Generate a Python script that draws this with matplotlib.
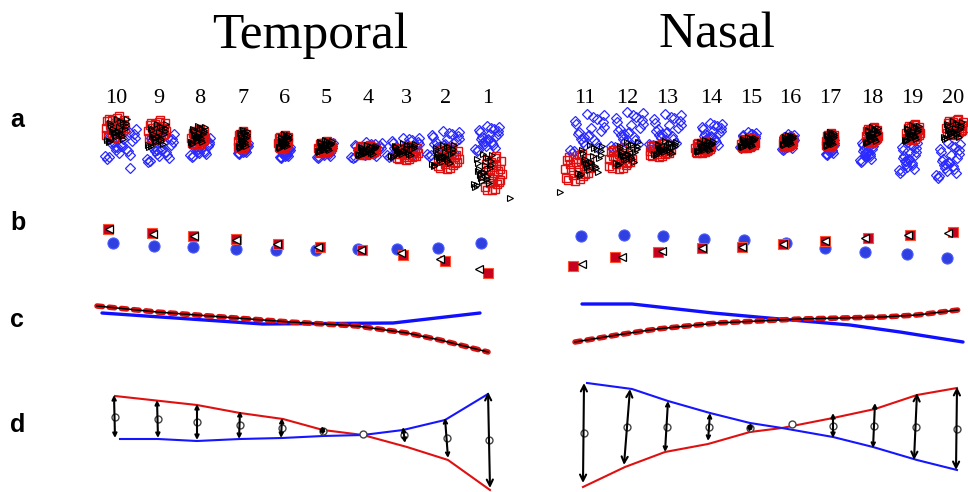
import matplotlib.pyplot as plt
import numpy as np

# column labels and their horizontal positions
temporal_labels = ['10', '9', '8', '7', '6', '5', '4', '3', '2', '1']
nasal_labels = ['11', '12', '13', '14', '15', '16', '17', '18', '19', '20']
temporal_x = [116, 159, 200, 243, 285, 326, 368, 406, 446, 488]
nasal_x = [585, 627, 667, 711, 751, 790, 830, 872, 912, 953]

# --- row a: cluster centres and spreads (red squares, black triangles, blue diamonds)
a_red_x = [115, 157, 198, 242, 283, 325, 367, 407, 448, 493, 577, 620, 660, 703, 748, 788, 830, 872, 913, 955]
a_red_y = [127, 130, 137, 140, 142, 147, 150, 153, 158, 173, 167, 158, 150, 147, 143, 142, 140, 135, 132, 127]
a_red_sx = [10, 9, 7, 4, 5, 7, 9, 11, 11, 9, 13, 12, 11, 8, 7, 5, 4, 6, 7, 9]
a_red_sy = [11, 10, 8, 9, 7, 6, 5, 7, 11, 18, 14, 11, 7, 6, 5, 5, 7, 8, 8, 8]
a_blk_x = [117, 157, 198, 243, 284, 325, 367, 403, 443, 483, 590, 627, 665, 705, 748, 788, 830, 872, 912, 953]
a_blk_y = [130, 135, 135, 139, 141, 146, 150, 150, 155, 170, 160, 153, 148, 146, 142, 140, 139, 135, 133, 130]
a_blk_sx = [10, 9, 7, 4, 5, 7, 9, 12, 11, 9, 12, 11, 11, 8, 7, 5, 4, 6, 7, 9]
a_blk_sy = [12, 12, 9, 9, 7, 6, 5, 7, 11, 17, 16, 12, 7, 6, 5, 5, 7, 8, 8, 9]
a_blu_x = [120, 160, 200, 243, 285, 325, 366, 403, 443, 487, 587, 627, 665, 710, 748, 788, 830, 867, 908, 948]
a_blu_y = [143, 147, 147, 148, 152, 150, 150, 147, 143, 138, 133, 130, 130, 135, 140, 142, 147, 150, 157, 160]
a_blu_sx = [16, 14, 10, 5, 5, 8, 16, 17, 17, 12, 18, 17, 17, 12, 8, 6, 4, 7, 9, 12]
a_blu_sy = [16, 15, 10, 6, 6, 8, 8, 10, 13, 13, 20, 19, 17, 13, 8, 8, 8, 12, 16, 18]
# fixed scatter pattern inside each cluster
jit_u = [-0.95, -0.62, -0.31, -0.05, 0.22, 0.51, 0.83, -0.78, -0.44, -0.12, 0.17, 0.46,
         0.74, 0.98, -0.88, -0.27, 0.05, 0.35, 0.62, -0.55, 0.28, -0.70, 0.90, 0.10]
jit_v = [0.12, -0.71, 0.55, -0.33, 0.88, -0.09, 0.40, -0.52, 0.21, 0.97, -0.84, 0.63,
         -0.25, 0.07, 0.75, -0.60, 0.34, -0.96, 0.48, -0.18, -0.42, 0.92, -0.66, 0.02]
outlier_tri = [(510, 198), (560, 192)]
outlier_dia = [(130, 168)]

# --- row b: mean positions
b_blue_y = [243, 246, 247, 249, 250, 250, 249, 249, 248, 243,
            236, 235, 236, 239, 240, 243, 248, 252, 254, 258]
b_red_x = [108, 152, 193, 236, 278, 320, 362, 403, 445, 488,
           573, 615, 658, 702, 742, 783, 825, 868, 910, 953]
b_red_y = [229, 233, 236, 239, 244, 247, 250, 255, 261, 273,
           266, 257, 252, 248, 247, 244, 241, 238, 235, 232]
b_tri_x = [109, 153, 194, 236, 277, 318, 361, 401, 440, 479,
           582, 622, 662, 702, 742, 783, 825, 865, 908, 948]
b_tri_y = [229, 234, 236, 240, 244, 247, 250, 253, 259, 269,
           264, 257, 251, 248, 247, 244, 241, 238, 235, 233]
b_blue_x = [113, 154, 193, 236, 276, 316, 358, 397, 438, 481,
            581, 624, 663, 704, 744, 786, 825, 865, 907, 947]

# --- row c: fitted curves
c_t_fit_x = [97, 157, 223, 290, 357, 407, 440, 488]
c_t_fit_y = [306, 312, 317, 322, 326, 333, 340, 352]
c_t_blue_x = [102, 263, 393, 480]
c_t_blue_y = [313, 324, 323, 313]
c_n_fit_x = [575, 617, 657, 717, 800, 883, 917, 958]
c_n_fit_y = [342, 335, 329, 323, 319, 317, 315, 310]
c_n_blue_x = [582, 632, 713, 757, 803, 850, 900, 963]
c_n_blue_y = [304, 304, 313, 317, 321, 325, 332, 342]

# --- row d: red / blue profiles and arrows
d_red_x = [115, 197, 240, 283, 323, 363, 407, 448, 490,
           583, 625, 665, 708, 750, 782, 833, 875, 917, 957]
d_red_y = [396, 405, 413, 419, 430, 435, 447, 460, 490,
           487, 467, 452, 444, 432, 428, 418, 409, 395, 388]
d_blue_x = [120, 158, 197, 240, 282, 323, 363, 403, 445, 488,
            587, 632, 668, 710, 750, 782, 833, 873, 917, 957]
d_blue_y = [439, 439, 441, 439, 438, 436, 435, 430, 420, 394,
            383, 389, 401, 413, 423, 428, 437, 447, 460, 470]
arr_x0 = [114, 157, 197, 240, 282, 322, 363, 403, 445, 488,
          584, 630, 668, 710, 751, 792, 833, 875, 917, 957]
arr_y0 = [395, 400, 404, 411, 418, 426, 434, 427, 418, 392,
          383, 389, 401, 413, 423, 424, 413, 403, 393, 387]
arr_x1 = [115, 158, 197, 239, 281, 323, 363, 405, 448, 490,
          583, 624, 665, 708, 749, 792, 833, 873, 914, 956]
arr_y1 = [438, 438, 440, 439, 438, 435, 434, 443, 458, 488,
          483, 465, 452, 441, 432, 424, 438, 448, 460, 470]

BLUE = '#2b2bff'
RED = '#e01010'

fig = plt.figure(figsize=(9.68, 4.92), dpi=100)
ax = fig.add_axes([0, 0, 1, 1])
ax.set_xlim(0, 968)
ax.set_ylim(492, 0)
ax.axis('off')

# titles and labels
ax.text(310, 48, 'Temporal', fontsize=37, family='Liberation Serif', ha='center', va='baseline')
ax.text(717, 48, 'Nasal', fontsize=37, family='Liberation Serif', ha='center', va='baseline')
for lab, x in zip(temporal_labels + nasal_labels, temporal_x + nasal_x):
    ax.text(x, 103, lab, fontsize=16, family='Liberation Serif', ha='center', va='baseline')
for lab, y in zip('abcd', [127, 230, 327, 432]):
    ax.text(10, y, lab, fontsize=18, family='Liberation Sans', weight='bold', va='baseline')

# row a
u = np.array(jit_u)
v = np.array(jit_v)
for i in range(20):
    ax.plot(a_blu_x[i] + a_blu_sx[i] * v, a_blu_y[i] + a_blu_sy[i] * u[::-1], 'D', ls='none',
            ms=5, mfc='none', mec=BLUE, mew=0.9)
    ax.plot(a_red_x[i] + a_red_sx[i] * u, a_red_y[i] + a_red_sy[i] * v, 's', ls='none',
            ms=6, mfc='none', mec=RED, mew=1.0)
    ax.plot(a_blk_x[i] + a_blk_sx[i] * v[::-1], a_blk_y[i] + a_blk_sy[i] * u, '>', ls='none',
            ms=5, mfc='none', mec='black', mew=0.8)
ax.plot([p[0] for p in outlier_tri], [p[1] for p in outlier_tri], '>', ls='none',
        ms=5, mfc='none', mec='black', mew=0.8)
ax.plot([p[0] for p in outlier_dia], [p[1] for p in outlier_dia], 'D', ls='none',
        ms=5, mfc='none', mec=BLUE, mew=0.9)

# row b
ax.plot(b_blue_x, b_blue_y, 'o', ls='none', ms=8, mfc='#2f3fe0', mec='#4a5cff', mew=0.8)
ax.plot(b_red_x, b_red_y, 's', ls='none', ms=7.5, mfc='#c8001e', mec='#ff5030', mew=0.8)
ax.plot(b_tri_x, b_tri_y, '<', ls='none', ms=6, mfc='white', mec='black', mew=0.9)

# row c
for fx, fy, bx, by in [(c_t_fit_x, c_t_fit_y, c_t_blue_x, c_t_blue_y),
                       (c_n_fit_x, c_n_fit_y, c_n_blue_x, c_n_blue_y)]:
    ax.plot(bx, by, color='#1010ff', lw=2.4, solid_capstyle='round')
    ax.plot(fx, fy, color=RED, lw=4, ls=(0, (1.0, 1.2)), dash_capstyle='round')
    ax.plot(fx, fy, color='black', lw=1.1)

# row d
ax.plot(d_red_x[:9], d_red_y[:9], color=RED, lw=1.5)
ax.plot(d_red_x[9:], d_red_y[9:], color=RED, lw=1.5)
ax.plot(d_blue_x[:10], d_blue_y[:10], color='#1515ff', lw=1.5)
ax.plot(d_blue_x[10:], d_blue_y[10:], color='#1515ff', lw=1.5)
for x0, y0, x1, y1 in zip(arr_x0, arr_y0, arr_x1, arr_y1):
    if abs(y1 - y0) > 3:
        size = 6 if abs(y1 - y0) < 60 else 11
        ax.annotate('', xy=(x1, y1), xytext=(x0, y0),
                    arrowprops=dict(arrowstyle='<->', lw=1.5, color='black',
                                    shrinkA=0, shrinkB=0, mutation_scale=size))
    ax.plot((x0 + x1) / 2, (y0 + y1) / 2, 'o', ms=5, mfc='white', mec='#444444', mew=1.0)

fig.savefig('out.png', dpi=100)
